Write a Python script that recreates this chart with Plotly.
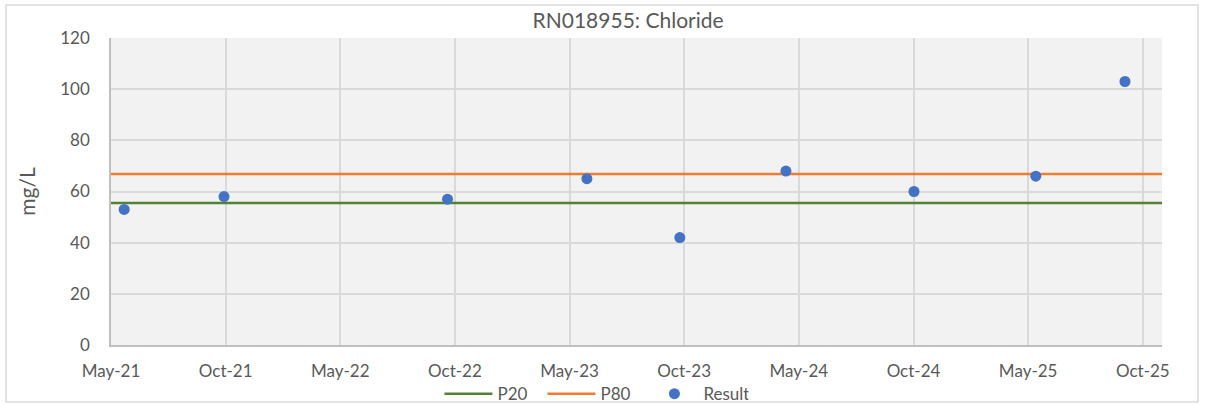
"""RN018955 chloride results with P20 / P80 trigger lines."""
import pandas as pd
import plotly.graph_objects as go

sample_dates = ["2021-05-22", "2021-10-28", "2022-10-19", "2023-05-29", "2023-10-24",
                "2024-04-10", "2024-10-31", "2025-05-13", "2025-10-02"]
results = [53, 58, 57, 65, 42, 68, 60, 66, 103]
p20 = 55.5
p80 = 66.8
x_range = ["2021-05-01", "2025-11-30"]
tick_labels = ["May-21", "Oct-21", "May-22", "Oct-22", "May-23",
               "Oct-23", "May-24", "Oct-24", "May-25", "Oct-25"]
tick_dates = [pd.Timestamp("2021-05-01") + pd.Timedelta(days=182.6 * i) for i in range(len(tick_labels))]

FONT = "Lato, Calibri, sans-serif"
GREY = "#595959"

fig = go.Figure()
fig.add_trace(go.Scatter(x=x_range, y=[p20, p20], mode="lines", name="P20",
    line=dict(color="#548235", width=2.5)))
fig.add_trace(go.Scatter(x=x_range, y=[p80, p80], mode="lines", name="P80",
    line=dict(color="#ED7D31", width=2.5)))
fig.add_trace(go.Scatter(x=pd.to_datetime(sample_dates), y=results, mode="markers", name="Result",
    marker=dict(color="#4472C4", size=11)))

fig.update_layout(
    width=1208, height=405,
    paper_bgcolor="white", plot_bgcolor="#F2F2F2",
    font=dict(family=FONT, color=GREY, size=18),
    title=dict(text="RN018955: Chloride", x=0.492, xref="paper", xanchor="center",
               y=0.948, yanchor="middle", font=dict(size=21, color=GREY, family=FONT)),
    margin=dict(l=111, r=46, t=38, b=60, autoexpand=False),
    xaxis=dict(type="date", range=x_range, tickvals=tick_dates, ticktext=tick_labels,
               showgrid=True, gridcolor="#D9D9D9", gridwidth=1.5,
               showline=True, linecolor="#BFBFBF", linewidth=1.5, automargin=False,
               ticks="", ticklabelstandoff=10, zeroline=False, tickfont=dict(size=17)),
    yaxis=dict(range=[0, 120], dtick=20, showgrid=True, gridcolor="#D9D9D9", gridwidth=1.5,
               showline=True, linecolor="#BFBFBF", linewidth=1.5, zeroline=False,
               ticks="", ticklabelstandoff=16, automargin=False, tickfont=dict(size=17),
               title=dict(text="mg/L", font=dict(size=21, color=GREY), standoff=19)),
    legend=dict(orientation="h", x=0.3125, xanchor="left", y=-0.16, yanchor="middle",
                font=dict(size=17, color=GREY), bgcolor="rgba(0,0,0,0)", itemwidth=48,
                entrywidth=40, entrywidthmode="pixels"),
    showlegend=True,
)
fig.add_shape(type="rect", xref="paper", yref="paper", x0=-0.0999, x1=1.0342, y0=-0.1857, y1=1.1075,
              line=dict(color="#D9D9D9", width=1.5), fillcolor="rgba(0,0,0,0)", layer="below")

# page body has an 8px default margin; drop it so the figure sits at the window corner
fig.write_html("out.html", post_script="document.body.style.margin='0';",
               config={"displayModeBar": False})
